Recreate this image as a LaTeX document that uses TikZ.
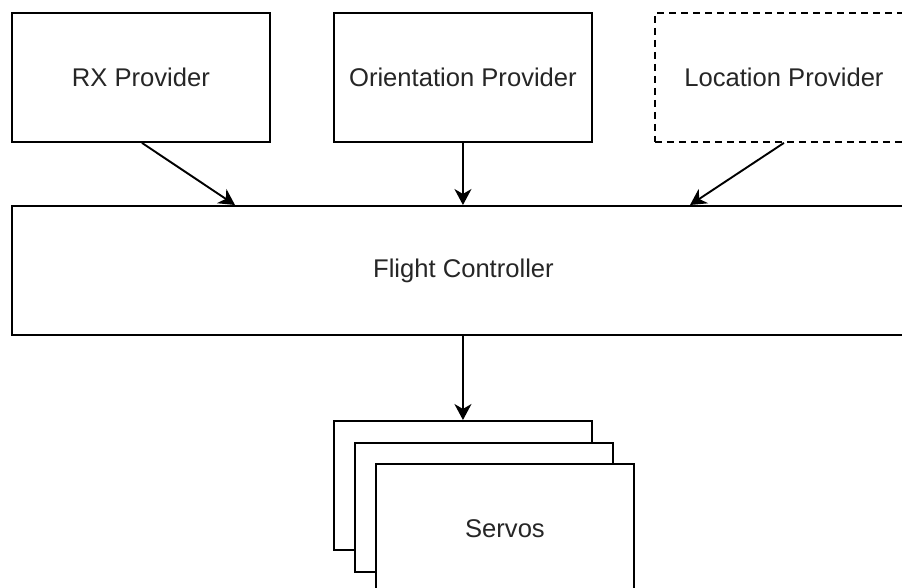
\documentclass[tikz,border=0pt]{standalone}
\usepackage{fontspec}
\setmainfont{Liberation Sans}
\usetikzlibrary{arrows.meta}
\begin{document}
\begin{tikzpicture}[x=1pt,y=-1pt,
  box/.style={draw=black, line width=1.9pt, fill=white, inner sep=0pt,
    minimum width=258pt, minimum height=129pt, anchor=north west,
    font=\fontsize{25.6}{30}\selectfont, text=black!85},
  optbox/.style={box, dash pattern=on 7pt off 5pt},
  wide/.style={box, minimum width=903pt},
  flow/.style={draw=black, line width=1.9pt,
    -{Stealth[length=16pt, width=17pt, inset=5pt]}}]
\useasboundingbox (0,0) rectangle (902,588);

% providers
\node[box]    (rx)     at (11,12)  {RX Provider};
\node[box]    (orient) at (333,12) {Orientation Provider};
\node[optbox] (loc)    at (654,12) {Location Provider};

% controller
\node[wide] (fc) at (11,205) {Flight Controller};

% stacked servo outputs
\node[box] (s1) at (333,420) {};
\node[box] (s2) at (354,442) {};
\node[box] (s3) at (375,463) {Servos};

% connectors
\coordinate (rxin)  at ([xshift=224pt]fc.north west);
\coordinate (locin) at ([xshift=679pt]fc.north west);
\draw[flow] ([xshift=1pt]rx.south) -- (rxin);
\draw[flow] (orient.south) -- (orient.south |- fc.north);
\draw[flow] (loc.south) -- (locin);
\draw[flow] (fc.south -| s1.north) -- (s1.north);
\end{tikzpicture}
\end{document}
